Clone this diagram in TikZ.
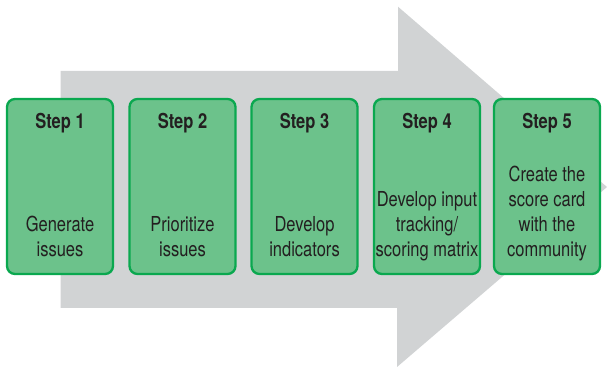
\documentclass[tikz,border=0pt]{standalone}
\usepackage{fontspec}
\setmainfont[FakeStretch=0.8]{TeX Gyre Heros}
\usetikzlibrary{positioning}

\definecolor{arrowgray}{HTML}{D1D3D4}
\definecolor{stepfill}{HTML}{6CC28B}
\definecolor{stepline}{HTML}{0AA84F}
\definecolor{steptext}{HTML}{231F20}

\tikzset{
    stepbox/.style={draw=stepline, line width=2pt, fill=stepfill, rounded corners=2.4mm,
                    minimum width=31.8mm, minimum height=52.5mm, inner sep=0pt},
    steptitle/.style={anchor=base, inner sep=0pt, text=steptext,
                      font=\fontsize{17.6}{21.3}\selectfont\bfseries},
    steptext/.style={anchor=south, inner sep=0pt, align=center, text=steptext,
                     font=\fontsize{17.6}{21.3}\selectfont, execute at end node=\strut}
}

\begin{document}
\begin{tikzpicture}[x=0.3mm, y=-0.3mm]
    \useasboundingbox (0,0) rectangle (607,367);

    % the big arrow behind the steps
    \fill[arrowgray] (60.7,71) -- (398,71) -- (398,6.7) -- (607,187)
                     -- (397,367) -- (397,308) -- (60.7,308) -- cycle;

    % the step boxes
    \node[stepbox] (step1) at (60,186.5) {};
    \node[stepbox] (step2) at (182.5,186.5) {};
    \node[stepbox] (step3) at (304.5,186.5) {};
    \node[stepbox] (step4) at (427,186.5) {};
    \node[stepbox] (step5) at (547,186.5) {};

    % titles
    \node[steptitle] (title1) at ([yshift=-9.3mm]step1.north) {Step 1};
    \node[steptitle] (title2) at ([yshift=-9.3mm]step2.north) {Step 2};
    \node[steptitle] (title3) at ([yshift=-9.3mm]step3.north) {Step 3};
    \node[steptitle] (title4) at ([yshift=-9.3mm]step4.north) {Step 4};
    \node[steptitle] (title5) at ([yshift=-9.3mm]step5.north) {Step 5};

    % what is done in each step
    \node[steptext] (what1) at ([yshift=3.2mm]step1.south) {Generate\\issues};
    \node[steptext] (what2) at ([yshift=3.2mm]step2.south) {Prioritize\\issues};
    \node[steptext] (what3) at ([yshift=3.2mm]step3.south) {Develop\\indicators};
    \node[steptext] (what4) at ([yshift=3.2mm]step4.south) {Develop input\\tracking/\\scoring matrix};
    \node[steptext] (what5) at ([yshift=3.2mm]step5.south) {Create the\\score card\\with the\\community};
\end{tikzpicture}
\end{document}
